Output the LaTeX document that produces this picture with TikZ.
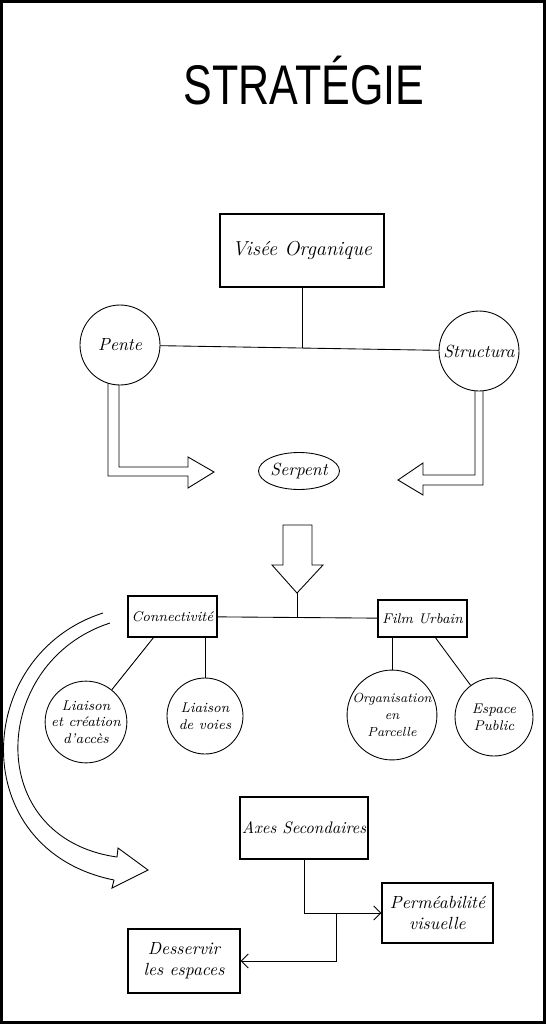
\documentclass[tikz,border=0pt]{standalone}
\usepackage{fontspec}
\usepackage{graphicx}
\usepackage{tikz}
\usetikzlibrary{positioning, arrows.meta, shapes.geometric}
\newfontfamily\titlefont{Liberation Sans}

\begin{document}
\begin{tikzpicture}[
    x=0.02cm, y=-0.02cm,
    box/.style={draw, line width=0.7pt, rectangle, inner sep=1pt, align=center, font=\itshape},
    circ/.style={draw, line width=0.5pt, circle, inner sep=0pt, minimum size=1.52cm, align=center, font=\fontsize{8}{9.5}\selectfont\itshape},
    link/.style={line width=0.5pt},
    hollow/.style={line width=0.5pt, line join=miter},
    tip/.style={line width=0.5pt, -{Straight Barb[length=4pt, width=8pt]}},
]
\useasboundingbox (0,0) rectangle (546,1024);
\draw[line width=0.06cm] (1.5,1.5) rectangle (544.5,1022.5);

\node[anchor=base, inner sep=0pt] (title) at (304,105)
    {\scalebox{0.77}[1]{\fontsize{31.8}{34}\titlefont STRATÉGIE}};

\node[box, minimum width=3.28cm, minimum height=1.46cm, font=\fontsize{11.5}{13}\selectfont\itshape] (visee) at (302,250.5) {Visée Organique};
\node[circ, minimum size=1.6cm, font=\fontsize{10}{12}\selectfont\itshape] (pente) at (120,345) {Pente};
\node[circ, minimum size=1.6cm, font=\fontsize{10}{12}\selectfont\itshape] (struct) at (479,351) {Structura};
\node[draw, link, ellipse, minimum width=1.56cm, minimum height=0.74cm, inner sep=0pt, font=\fontsize{10}{12}\selectfont\itshape] (serpent) at (299,471) {Serpent};

\coordinate (j1) at (302,348);
\draw[link] (pente) -- (struct);
\draw[link] (visee.south) -- (j1);

\draw[hollow] (108,383) -- (108,476) -- (188,476) -- (188,488) -- (214,472)
    -- (188,457) -- (188,467) -- (119,467) -- (119,385);
\draw[hollow] (475,391) -- (475,475) -- (423,475) -- (423,463) -- (398,480)
    -- (423,495) -- (423,485) -- (483,485) -- (483,391);

\coordinate (arrowtip) at (297,593);
\draw[hollow] (283,525) -- (312,525) -- (312,565) -- (323,565) -- (arrowtip)
    -- (272,565) -- (283,565) -- cycle;

\node[box, minimum width=1.78cm, minimum height=0.82cm, font=\fontsize{8}{10}\selectfont\itshape] (conn) at (172.5,616.5) {Connectivité};
\node[box, minimum width=1.78cm, minimum height=0.74cm, font=\fontsize{8}{10}\selectfont\itshape] (film) at (422.5,618.5) {Film Urbain};
\coordinate (j2) at (297,617);
\draw[link] (conn) -- (film);
\draw[link] (arrowtip) -- (j2);

\node[circ, minimum size=1.6cm] (acces) at (86,722) {Liaison\\et création\\d'accès};
\node[circ] (voies) at (205,716) {Liaison\\de voies};
\node[circ, font=\fontsize{7.5}{9.5}\selectfont\itshape] (parcelle) at (392,715) {Organisation\\en\\Parcelle};
\node[circ, minimum size=1.56cm] (public) at (494,717) {Espace\\Public};

\draw[link] (conn.-132) -- (acces);
\draw[link] (voies.north |- conn.south) -- (voies);
\draw[link] (parcelle.north |- film.south) -- (parcelle);
\draw[link] (film.-56) -- (public);

\draw[hollow] (103,613) .. controls (-28,655) and (-35,850) .. (114,880);
\draw[hollow] (110,623) .. controls (-10,662) and (-18,838) .. (117,857);
\draw[hollow] (117,857) -- (118,848) -- (148,870) -- (112,888) -- (114,880);

\node[box, minimum width=2.48cm, minimum height=1.24cm, font=\fontsize{9.5}{11}\selectfont\itshape] (axes) at (304,828) {Axes Secondaires};
\node[box, minimum width=2.22cm, minimum height=1.2cm, font=\fontsize{10}{12}\selectfont\itshape] (perm) at (437.5,913) {Perméabilité\\visuelle};
\node[box, minimum width=2.24cm, minimum height=1.28cm, font=\fontsize{10}{12}\selectfont\itshape] (dess) at (184,961) {Desservir\\les espaces};

\coordinate (split) at (336,913);
\draw[tip] (axes.south) |- (perm.west);
\draw[tip] (split) |- (dess.east);
\end{tikzpicture}
\end{document}
